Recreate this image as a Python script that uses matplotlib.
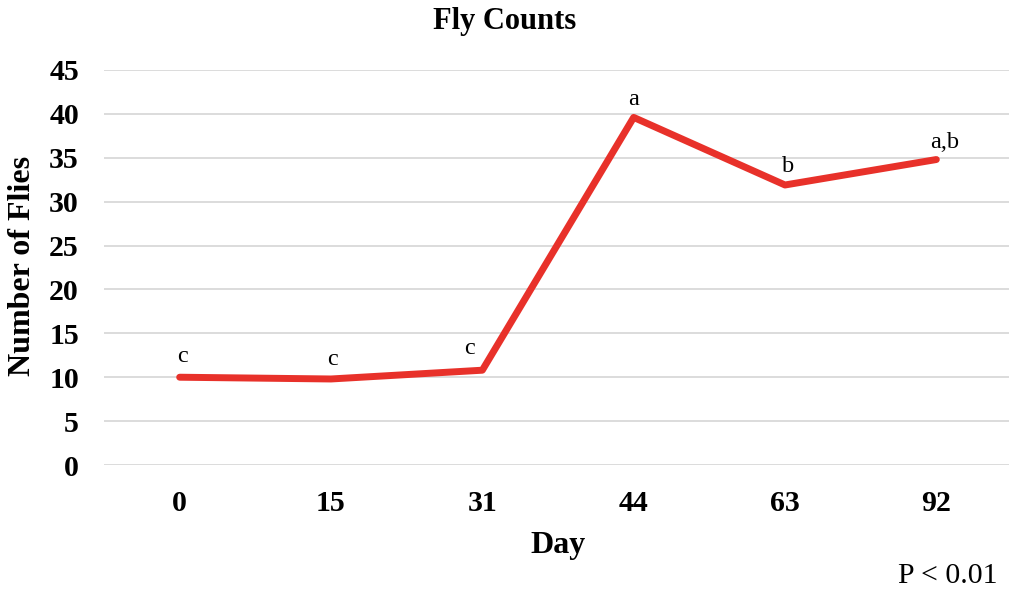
import matplotlib
matplotlib.use("Agg")
import matplotlib.pyplot as plt

days = ["0", "15", "31", "44", "63", "92"]
flies = [10.0, 9.8, 10.8, 39.6, 31.9, 34.8]
letters = ["c", "c", "c", "a", "b", "a,b"]
yticks = [0, 5, 10, 15, 20, 25, 30, 35, 40, 45]

plt.rcParams['font.family'] = ['Liberation Serif', 'DejaVu Serif']

fig = plt.figure(figsize=(10.09, 6.0), dpi=100)
ax = fig.add_axes([104/1009, 135/600, 908/1009, 395/600])

x = list(range(len(days)))
ax.plot(x, flies, color="#E8312A", linewidth=5, solid_capstyle="round", zorder=3)

offsets = [(2, 11), (1, 10), (-9, 12), (0, 9), (2, 9), (6, 8)]
for xi, yi, lab, off in zip(x, flies, letters, offsets):
    ax.annotate(lab, (xi, yi), xytext=off, textcoords="offset points",
                ha="center", va="baseline", fontsize=17.5)

ax.set_xlim(-0.5, len(days) - 0.5)
ax.set_ylim(0, 45)
ax.set_xticks(x)
ax.set_xticklabels(days, fontsize=21.5, fontweight="bold")
ax.set_yticks(yticks)
ax.set_yticklabels([str(v) for v in yticks], fontsize=21.5, fontweight="bold")
ax.tick_params(axis="both", length=0)
ax.tick_params(axis="y", pad=18)
ax.tick_params(axis="x", pad=18)
ax.grid(axis="y", color="#D9D9D9", linewidth=1.3)
ax.set_axisbelow(True)
for s in ax.spines.values():
    s.set_visible(False)

fig.text(558/1009, 1 - 545/600, "Day", ha="center", va="center", fontsize=23, fontweight="bold")
fig.text(23/1009, 1 - 266/600, "Number of Flies", ha="center", va="center", rotation=90,
         fontsize=23, fontweight="bold")
fig.text(505/1009, 1 - 22/600, "Fly Counts", ha="center", va="center", fontsize=22, fontweight="bold")
fig.text(1 - 12/1009, 1 - 576/600, "P < 0.01", ha="right", va="center", fontsize=21.5)

fig.savefig("out.png", dpi=100)
